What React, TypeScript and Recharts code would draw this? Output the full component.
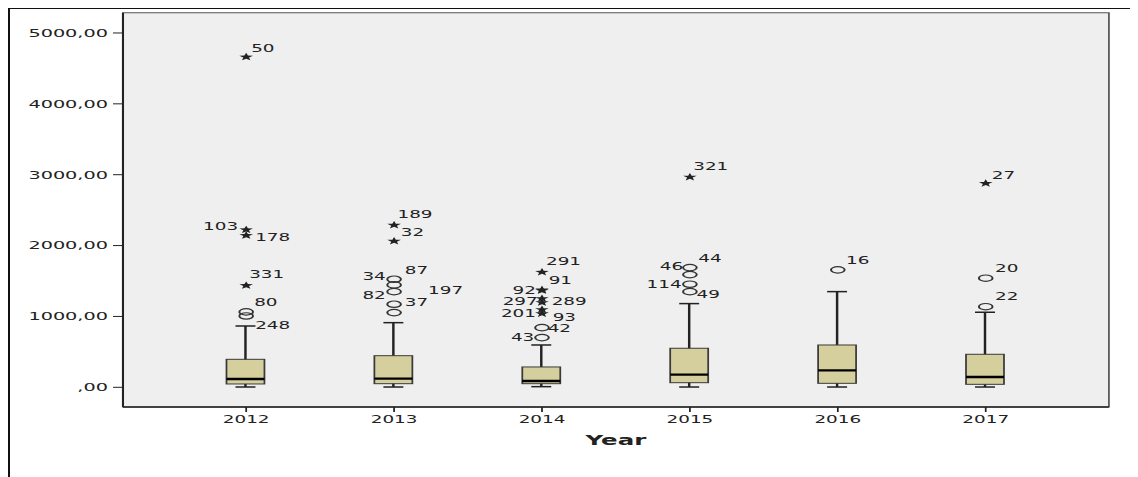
import React from 'react';
import {
  ComposedChart,
  Bar,
  Scatter,
  XAxis,
  YAxis,
  CartesianGrid,
  ReferenceArea,
} from 'recharts';

// Box plot summary per year
const years = [2012, 2013, 2014, 2015, 2016, 2017];
const whiskerLow = [4, 4, 9, 4, 4, 4];
const quartile1 = [47, 51, 51, 65, 56, 42];
const medians = [117, 121, 89, 178, 240, 145];
const quartile3 = [395, 446, 287, 551, 597, 466];
const whiskerHigh = [866, 912, 597, 1181, 1350, 1059];

// Outliers (circles)
const mildYears = [2012, 2012, 2013, 2013, 2013, 2013, 2013, 2014, 2014, 2015, 2015, 2015, 2015, 2016, 2017, 2017];
const mildValues = [1064, 1007, 1525, 1445, 1350, 1172, 1054, 842, 701, 1689, 1590, 1455, 1350, 1657, 1540, 1138];
const mildCases = ['80', '248', '34', '87', '82', '197', '37', '42', '43', '46', '44', '114', '49', '16', '20', '22'];

// Extreme values (stars)
const extremeYears = [2012, 2012, 2012, 2012, 2013, 2013, 2014, 2014, 2014, 2014, 2014, 2014, 2014, 2015, 2017];
const extremeValues = [4670, 2232, 2151, 1445, 2297, 2071, 1633, 1384, 1375, 1261, 1205, 1105, 1048, 2975, 2886];
const extremeCases = ['50', '103', '178', '331', '189', '32', '291', '91', '92', '289', '297', '93', '201', '321', '27'];

// Axis text
const yTicks = [0, 1000, 2000, 3000, 4000, 5000];
const yTickLabels = [',00', '1000,00', '2000,00', '3000,00', '4000,00', '5000,00'];
const xAxisTitle = 'Year';

// Horizontal stretch of the whole drawing
const STRETCH = 1.75;
const CHART_W = 650;
const CHART_H = 469;
const FONT = '"DejaVu Sans", Verdana, sans-serif';
const BOX_FILL = '#d4cf9c';

// Case-label placement: [dx, dy, anchor] in on-screen pixels
const labelPlacement: Record<string, [number, number, 'start' | 'end']> = {
  '80': [8, -10, 'start'],
  '248': [9, 9, 'start'],
  '50': [5, -8.4, 'start'],
  '103': [-8, -2.6, 'end'],
  '178': [9, 2.7, 'start'],
  '331': [3, -10.7, 'start'],
  '189': [3.4, -10.7, 'start'],
  '32': [6.7, -8.4, 'start'],
  '34': [-8.3, -3.3, 'end'],
  '87': [10.7, -15, 'start'],
  '82': [-8.3, 3.3, 'end'],
  '197': [34, -14.3, 'start'],
  '37': [10.7, -10, 'start'],
  '291': [4, -10.7, 'start'],
  '91': [6.7, -9.3, 'start'],
  '92': [-6, 0.7, 'end'],
  '289': [9.7, 3.7, 'start'],
  '297': [-4.3, -0.3, 'end'],
  '201': [-6, 0, 'end'],
  '93': [10.7, 8.2, 'start'],
  '42': [5.7, 0.6, 'start'],
  '43': [-7.7, 0, 'end'],
  '321': [3.3, -10.7, 'start'],
  '46': [-6.7, -1, 'end'],
  '44': [8.3, -16.4, 'start'],
  '114': [-8.3, 0, 'end'],
  '49': [6.7, 2.6, 'start'],
  '16': [8.3, -10, 'start'],
  '20': [9.3, -10, 'start'],
  '22': [9.3, -10, 'start'],
  '27': [6, -8, 'start'],
};

const boxData = years.map((year, i) => ({
  year,
  whiskerLow: whiskerLow[i],
  q1: quartile1[i],
  median: medians[i],
  q3: quartile3[i],
  whiskerHigh: whiskerHigh[i],
}));

const mildData = mildYears.map((year, i) => ({ year, value: mildValues[i], caseId: mildCases[i] }));
const extremeData = extremeYears.map((year, i) => ({ year, value: extremeValues[i], caseId: extremeCases[i] }));

const xDomain: [number, number] = [2011.167, 2017.833];
const yDomain: [number, number] = [-278, 5286];

function BoxShape(props: any) {
  const { x, y, width, height, payload } = props;
  if (x == null || y == null) return null;
  const top = Math.min(y, y + height);
  const bottom = Math.max(y, y + height);
  const lo = payload.whiskerLow;
  const hi = payload.whiskerHigh;
  const toPx = (v: number) => top + ((hi - v) / (hi - lo)) * (bottom - top);
  const cx = x + width / 2;
  const capHalf = 5.7;
  const yQ1 = toPx(payload.q1);
  const yQ3 = toPx(payload.q3);
  const yMed = toPx(payload.median);
  return (
    <g>
      <line x1={cx} x2={cx} y1={top} y2={bottom} stroke="#222" strokeWidth={1.4} />
      <line x1={cx - capHalf} x2={cx + capHalf} y1={top} y2={top} stroke="#222" strokeWidth={1.5} />
      <line x1={cx - capHalf} x2={cx + capHalf} y1={bottom} y2={bottom} stroke="#222" strokeWidth={1.5} />
      <rect x={x} y={yQ3} width={width} height={yQ1 - yQ3} fill={BOX_FILL} stroke="#3a3a3a" strokeWidth={1} />
      <line x1={x} x2={x + width} y1={yMed} y2={yMed} stroke="#000" strokeWidth={2.3} />
    </g>
  );
}

function CaseLabel({ cx, cy, caseId }: { cx: number; cy: number; caseId: string }) {
  const p = labelPlacement[caseId] || [6, -9, 'start'];
  return (
    <text
      x={cx + p[0] / STRETCH}
      y={cy + p[1]}
      dy="0.36em"
      textAnchor={p[2]}
      fontFamily={FONT}
      fontSize={10.5}
      fill="#222"
    >
      {caseId}
    </text>
  );
}

function CircleMarker(props: any) {
  const { cx, cy, payload } = props;
  if (cx == null || cy == null) return null;
  return (
    <g>
      <ellipse cx={cx} cy={cy} rx={3.9} ry={3.2} fill="none" stroke="#333" strokeWidth={1.15} />
      <CaseLabel cx={cx} cy={cy} caseId={payload.caseId} />
    </g>
  );
}

function StarMarker(props: any) {
  const { cx, cy, payload } = props;
  if (cx == null || cy == null) return null;
  const outer = 4.1;
  const inner = 1.7;
  const pts: string[] = [];
  for (let k = 0; k < 10; k++) {
    const r = k % 2 === 0 ? outer : inner;
    const a = -Math.PI / 2 + (k * Math.PI) / 5;
    pts.push(`${cx + r * Math.cos(a)},${cy + 0.6 + r * Math.sin(a)}`);
  }
  return (
    <g>
      <polygon points={pts.join(' ')} fill="#222" />
      <CaseLabel cx={cx} cy={cy} caseId={payload.caseId} />
    </g>
  );
}

const tickStyle = { fontFamily: FONT, fill: '#222' };

export default function App() {
  return (
    <div
      style={{
        position: 'relative',
        width: 1130,
        height: CHART_H + 1,
        marginTop: -1,
        overflow: 'hidden',
        borderTop: '2px solid #111',
        borderLeft: '2px solid #111',
        boxSizing: 'border-box',
        background: '#fff',
      }}
    >
      <div
        style={{
          position: 'absolute',
          left: -2,
          top: -1,
          width: CHART_W,
          height: CHART_H,
          transform: `scaleX(${STRETCH})`,
          transformOrigin: '0 0',
        }}
      >
        <ComposedChart
          width={CHART_W}
          height={CHART_H}
          data={boxData}
          margin={{ top: 4.7, right: 20.9, bottom: 40, left: 0 }}
        >
          <CartesianGrid horizontal={false} vertical={false} fill="#efefef" />
          <XAxis
            dataKey="year"
            type="number"
            domain={xDomain}
            ticks={years}
            allowDataOverflow
            height={30}
            tickSize={5}
            tickMargin={3.5}
            tick={{ ...tickStyle, fontSize: 10.5 }}
            tickLine={{ stroke: '#222', strokeWidth: 1 }}
            axisLine={{ stroke: '#222', strokeWidth: 1.5 }}
            label={{
              value: xAxisTitle,
              position: 'bottom',
              offset: -2,
              style: { fontFamily: FONT, fontSize: 14, fontWeight: 'bold', fill: '#222' },
            }}
          />
          <YAxis
            type="number"
            domain={yDomain}
            ticks={yTicks}
            allowDataOverflow
            width={65.7}
            tickSize={5.7}
            tickMargin={2.9}
            tick={{ ...tickStyle, fontSize: 11 }}
            tickFormatter={(v: number) => yTickLabels[yTicks.indexOf(v)] ?? ''}
            tickLine={{ stroke: '#222', strokeWidth: 1 }}
            axisLine={{ stroke: '#222', strokeWidth: 1.2 }}
          />
          <ReferenceArea
            x1={xDomain[0]}
            x2={xDomain[1]}
            y1={yDomain[0]}
            y2={yDomain[1]}
            fill="none"
            stroke="#555"
            strokeWidth={1}
          />
          <Bar
            dataKey={(d: any) => [d.whiskerLow, d.whiskerHigh]}
            barSize={21.7}
            shape={BoxShape}
            isAnimationActive={false}
          />
          <Scatter data={mildData} dataKey="value" shape={CircleMarker} isAnimationActive={false} />
          <Scatter data={extremeData} dataKey="value" shape={StarMarker} isAnimationActive={false} />
        </ComposedChart>
      </div>
    </div>
  );
}
